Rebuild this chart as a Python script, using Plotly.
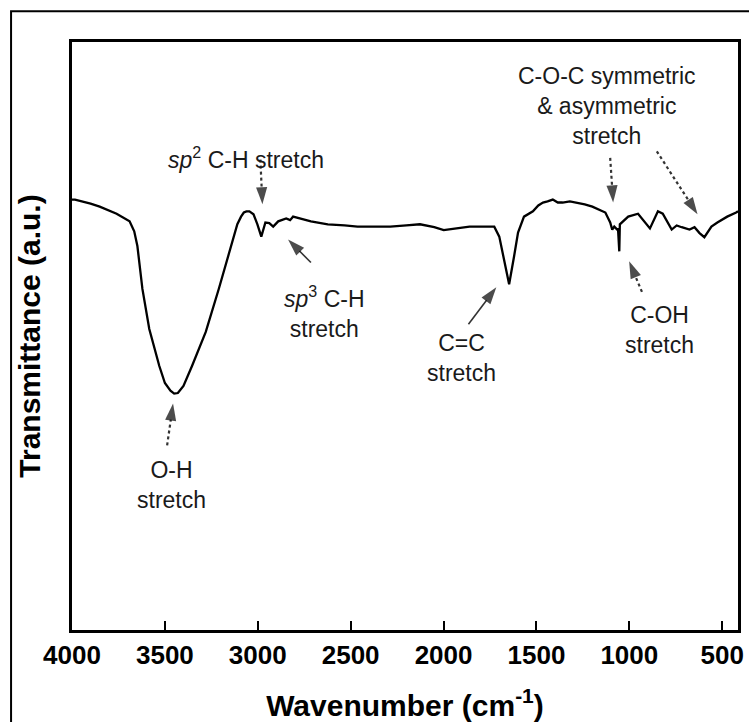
import plotly.graph_objects as go

# FTIR spectrum: wavenumber (cm^-1) and transmittance (arbitrary units)
wavenumber = [4000, 3984, 3900, 3851, 3760, 3690, 3665, 3648, 3621, 3584,
              3530, 3500, 3470, 3450, 3430, 3400, 3354, 3280, 3210, 3157,
              3110, 3090, 3075, 3061, 3045, 3023, 3002, 2981, 2959, 2938,
              2917, 2890, 2863, 2847, 2826, 2810, 2714, 2623, 2533, 2463,
              2380, 2287, 2200, 2127, 2050, 1999, 1930, 1860, 1790, 1727,
              1700, 1673, 1647, 1620, 1599, 1567, 1540, 1519, 1490, 1465,
              1440, 1412, 1385, 1359, 1320, 1289, 1240, 1199, 1160, 1129,
              1103, 1092, 1081, 1065, 1061, 1058, 1054, 1051, 1006, 953,
              905, 889, 846, 820, 772, 745, 718, 676, 649, 622,
              596, 580, 558, 526, 473, 425, 415]
transmittance = [73.2, 73.2, 72.5, 72.0, 70.8, 69.5, 67.8, 65.3, 58.0, 51.2,
                 44.9, 42.0, 40.7, 40.2, 40.3, 41.5, 44.9, 50.7, 58.0, 63.6,
                 69.0, 70.3, 71.0, 71.2, 71.2, 70.7, 69.0, 66.9, 69.3, 69.2,
                 68.6, 69.5, 69.8, 70.0, 69.7, 70.3, 69.5, 69.0, 68.8, 68.6,
                 68.6, 68.6, 68.8, 69.0, 68.5, 68.0, 68.3, 68.6, 68.6, 68.6,
                 66.9, 62.5, 58.8, 63.6, 67.6, 70.3, 70.8, 71.2, 72.2, 72.7,
                 72.9, 73.2, 72.7, 72.7, 72.9, 72.7, 72.4, 72.0, 71.5, 71.0,
                 69.3, 68.1, 68.6, 68.1, 68.3, 64.4, 64.4, 69.0, 70.3, 70.8,
                 69.0, 68.3, 71.2, 70.8, 68.1, 68.8, 68.5, 68.1, 68.5, 67.5,
                 66.8, 67.5, 68.6, 69.3, 70.3, 71.0, 71.2]

x_ticks = [4000, 3500, 3000, 2500, 2000, 1500, 1000, 500]

# Band labels: text, label position (wn, T), arrow tail (wn, T), arrow head (wn, T), dotted shaft
bands = [
    ("<i>sp</i><sup>2</sup> C-H stretch", (3061, 80.3), (2986, 80.0), (2975, 72.4), True),
    ("<i>sp</i><sup>3</sup> C-H<br>stretch", (2639, 54.1), (2714, 62.5), (2837, 66.4), False),
    ("O-H<br>stretch", (3466, 24.6), (3488, 31.4), (3456, 38.5), True),
    ("C=C<br>stretch", (1903, 46.3), (1866, 52.0), (1716, 58.3), False),
    ("C-OH<br>stretch", (836, 51.0), (932, 57.5), (1001, 62.7), True),
    ("C-O-C symmetric<br>& asymmetric<br>stretch", (1119, 89.2), (1103, 80.3), (1087, 72.7), True),
    (None, None, (852, 81.4), (633, 70.7), True),
]

FONT = "Arial, Liberation Sans, Helvetica, sans-serif"
INK = "#1a1a1a"

fig = go.Figure()
fig.add_trace(go.Scatter(x=wavenumber, y=transmittance, mode="lines",
                         line=dict(color="black", width=2.3), hoverinfo="skip",
                         showlegend=False))

annotations = []
for text, pos, tail, head, dotted in bands:
    if text is not None:
        annotations.append(dict(x=pos[0], y=pos[1], xref="x", yref="y", text=text,
                                showarrow=False, xanchor="center", yanchor="middle",
                                font=dict(family=FONT, size=23, color=INK)))
    # arrow: shaft from tail to head, arrowhead marker oriented along the shaft
    fig.add_trace(go.Scatter(
        x=[tail[0], head[0]], y=[tail[1], head[1]], mode="lines+markers",
        line=dict(color="#333333", width=2.2 if dotted else 1.6,
                  dash="dot" if dotted else "solid"),
        marker=dict(symbol=["circle", "arrow"], size=[0, 18], color="black",
                    angleref="previous", line=dict(width=0)),
        hoverinfo="skip", showlegend=False))

# outer frame around the whole figure
shapes = [dict(type="rect", xref="paper", yref="paper",
               x0=-0.0915, y0=-0.16, x1=1.02, y1=1.0525,
               line=dict(color="black", width=2), layer="below")]

fig.update_layout(
    width=749, height=722,
    margin=dict(l=72, r=5, t=42, b=90),
    paper_bgcolor="white", plot_bgcolor="white",
    shapes=shapes, annotations=annotations,
    font=dict(family=FONT, color="black"),
    xaxis=dict(range=[4000, 415], tickvals=x_ticks,
               ticktext=[str(v) for v in x_ticks],
               ticks="inside", ticklen=9, tickwidth=2, tickcolor="black",
               tickfont=dict(family=FONT, size=26, color="black", weight="bold"),
               showline=True, linecolor="black", linewidth=3, mirror=True,
               showgrid=False, zeroline=False,
               title=dict(text="Wavenumber (cm<sup>-1</sup>)", standoff=26,
                          font=dict(family=FONT, size=30, color="black", weight="bold"))),
    yaxis=dict(range=[0, 100], showticklabels=False, ticks="",
               showline=True, linecolor="black", linewidth=3, mirror=True,
               showgrid=False, zeroline=False,
               title=dict(text="Transmittance (a.u.)", standoff=20,
                          font=dict(family=FONT, size=30, color="black", weight="bold"))),
)

fig.write_html("out.html")
